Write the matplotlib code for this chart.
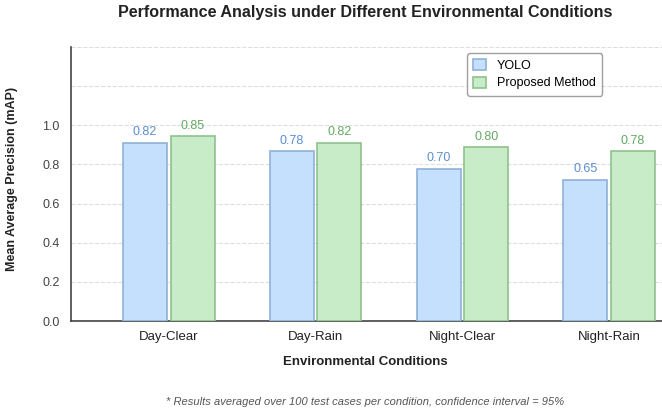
import numpy as np
import matplotlib.pyplot as plt

plt.rcParams['font.family'] = ['Liberation Sans', 'DejaVu Sans']

conditions = ["Day-Clear", "Day-Rain", "Night-Clear", "Night-Rain"]
# printed mAP values
yolo_map = [0.82, 0.78, 0.70, 0.65]
proposed_map = [0.85, 0.82, 0.80, 0.78]
# bar heights as drawn in the picture (read against the y axis)
yolo_bar = [0.911, 0.867, 0.778, 0.722]
proposed_bar = [0.944, 0.911, 0.889, 0.867]
y_ticks = [0.0, 0.2, 0.4, 0.6, 0.8, 1.0, 1.2, 1.4]
y_labels = ["0.0", "0.2", "0.4", "0.6", "0.8", "1.0", "", ""]

W, H = 662, 412
fig = plt.figure(figsize=(W / 100, H / 100), dpi=100)
ax = fig.add_axes([71 / W, (H - 321) / H, (707 - 71) / W, (321 - 47) / H])

x = np.arange(len(conditions))
width = 0.3
off = 0.162

b1 = ax.bar(x - off, yolo_bar, width, color='#c4e0fc', edgecolor='#90b2d8',
            linewidth=1.2, label='YOLO', zorder=3)
b2 = ax.bar(x + off, proposed_bar, width, color='#c8ebc8', edgecolor='#8ec28e',
            linewidth=1.2, label='Proposed Method', zorder=3)

for rect, v in zip(b1, yolo_map):
    ax.text(rect.get_x() + rect.get_width() / 2, rect.get_height() + 0.022,
            f"{v:.2f}", ha='center', va='bottom', fontsize=9, color='#5a8fd0')
for rect, v in zip(b2, proposed_map):
    ax.text(rect.get_x() + rect.get_width() / 2, rect.get_height() + 0.022,
            f"{v:.2f}", ha='center', va='bottom', fontsize=9, color='#62aa62')

ax.set_xlim(-0.667, 3.667)
ax.set_ylim(0, 1.4)
ax.set_xticks(x)
ax.set_xticklabels(conditions, fontsize=9.5, color='#222222')
ax.set_yticks(y_ticks)
ax.set_yticklabels(y_labels, fontsize=9, color='#444444')
ax.tick_params(length=0, pad=8)
ax.tick_params(axis='x', pad=7)

ax.grid(axis='y', linestyle='--', color='#dddddd', linewidth=0.8, zorder=0)
ax.set_axisbelow(True)
for s in ['top', 'right']:
    ax.spines[s].set_visible(False)
for s in ['left', 'bottom']:
    ax.spines[s].set_color('#444444')
    ax.spines[s].set_linewidth(1.2)

leg = ax.legend(loc='upper left', bbox_to_anchor=((467 - 71) / (707 - 71), (321 - 53) / (321 - 47)),
                fontsize=9, frameon=True, fancybox=True, borderpad=0.5, borderaxespad=0,
                handlelength=1.0, handleheight=1.0, labelspacing=0.35, handletextpad=0.9)
leg.get_frame().set_edgecolor('#888888')
leg.get_frame().set_linewidth(1.0)

cx = 365 / W
fig.text(cx, 1 - 13 / H, "Performance Analysis under Different Environmental Conditions",
         ha='center', va='center', fontsize=11.6, fontweight='bold', color='#222222')
fig.text(cx, 1 - 362 / H, "Environmental Conditions", ha='center', va='center',
         fontsize=9.5, fontweight='bold', color='#222222')
fig.text(12 / W, 1 - 179 / H, "Mean Average Precision (mAP)", ha='center', va='center',
         rotation=90, fontsize=9, fontweight='bold', color='#222222')
fig.text(cx, 1 - 402 / H,
         "* Results averaged over 100 test cases per condition, confidence interval = 95%",
         ha='center', va='center', fontsize=8, style='italic', color='#555555')

fig.savefig("out.png", dpi=100)
